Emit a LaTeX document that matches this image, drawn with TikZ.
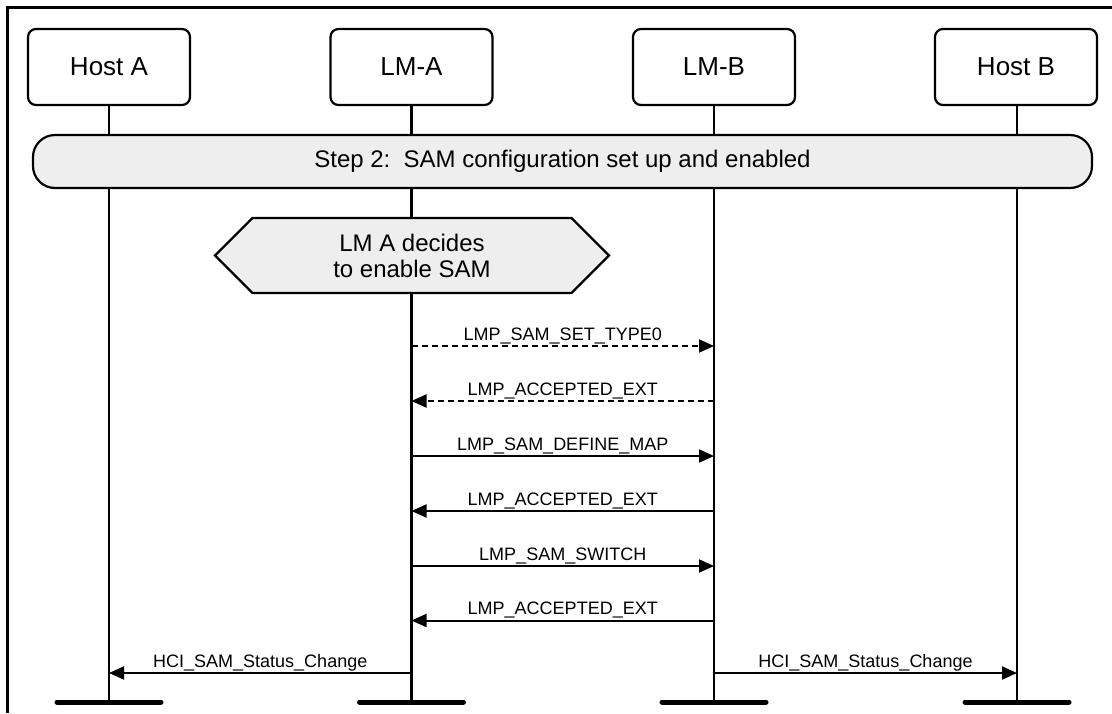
\documentclass[tikz,border=0pt]{standalone}
\usepackage{fontspec}
\setmainfont{Liberation Sans}
\usetikzlibrary{arrows.meta}
\definecolor{barfill}{HTML}{EEEEEE}
\begin{document}
\begin{tikzpicture}[x=1pt,y=-1pt,
  lifebox/.style={draw, line width=2.2pt, rounded corners=8pt, minimum width=162pt, minimum height=76pt, inner sep=0pt, font=\fontsize{26}{30}\selectfont, fill=white},
  lifeline/.style={line width=2.4pt},
  msg/.style={line width=2pt, -{Triangle[length=15pt,width=13pt]}},
  dmsg/.style={msg, dash pattern=on 6pt off 4pt},
  lbl/.style={anchor=base, inner sep=0pt, font=\fontsize{18}{20}\selectfont},
  endbar/.style={line width=5pt, line cap=round},
  frame/.style={line width=2.4pt}
]
\useasboundingbox (0,0) rectangle (1112,713);
% frame
\draw[frame] (7.5,713) -- (7.5,7.5) -- (1112,7.5);

% lifeline heads
\node[lifebox] (hA) at (109,67) {Host A};
\node[lifebox] (lA) at (411.5,67) {LM-A};
\node[lifebox] (lB) at (714,67) {LM-B};
\node[lifebox] (hB) at (1016,67) {Host B};

% bottom ends
\coordinate (ehA) at (109,702);
\coordinate (elA) at (411.5,702);
\coordinate (elB) at (714,702);
\coordinate (ehB) at (1017,702);

\draw[lifeline] (hA.south) -- (ehA);
\draw[lifeline] (lA.south) -- (elA);
\draw[lifeline] (lB.south) -- (elB);
\draw[lifeline] (hB.south -| ehB) -- (ehB);

\foreach \e in {ehA,elA,elB,ehB}
  \draw[endbar] ([xshift=-52pt]\e) -- ([xshift=52pt]\e);

% step bar
\draw[line width=2.2pt, fill=barfill, rounded corners=22pt] (33,135) rectangle (1092,188);
\node[font=\fontsize{24}{28}\selectfont, inner sep=0pt] (step) at (562.5,161.5) {Step 2:\ \ SAM configuration set up and enabled};

% hexagon
\draw[line width=2.2pt, fill=barfill, line join=miter]
  (215,255.5) -- (252.5,218) -- (571.5,218) -- (609,255.5) -- (571.5,293) -- (252.5,293) -- cycle;
\node[align=center, font=\fontsize{24}{26}\selectfont, inner sep=0pt] (dec) at (412,255.5) {LM A decides\\to enable SAM};

% message end points
\foreach \n/\y in {1/346,2/401,3/456,4/511,5/566,6/620.5,7/673}{
  \coordinate (a\n) at (411.5,\y);
  \coordinate (b\n) at (714,\y);
}
\coordinate (h7) at (109,673);
\coordinate (k7) at (1017,673);

\draw[dmsg] (a1) -- (b1);
\draw[dmsg] (b2) -- (a2);
\draw[msg] (a3) -- (b3);
\draw[msg] (b4) -- (a4);
\draw[msg] (a5) -- (b5);
\draw[msg] (b6) -- (a6);
\draw[msg] (a7) -- (h7);
\draw[msg] (b7) -- (k7);

\node[lbl] (t1) at (562.75,340) {LMP\_SAM\_SET\_TYPE0};
\node[lbl] (t2) at (562.75,395) {LMP\_ACCEPTED\_EXT};
\node[lbl] (t3) at (562.75,450) {LMP\_SAM\_DEFINE\_MAP};
\node[lbl] (t4) at (562.75,505) {LMP\_ACCEPTED\_EXT};
\node[lbl] (t5) at (562.75,560) {LMP\_SAM\_SWITCH};
\node[lbl] (t6) at (562.75,614.5) {LMP\_ACCEPTED\_EXT};
\node[lbl] (t7) at (260.25,667) {HCI\_SAM\_Status\_Change};
\node[lbl] (t8) at (865.5,667) {HCI\_SAM\_Status\_Change};
\end{tikzpicture}
\end{document}
